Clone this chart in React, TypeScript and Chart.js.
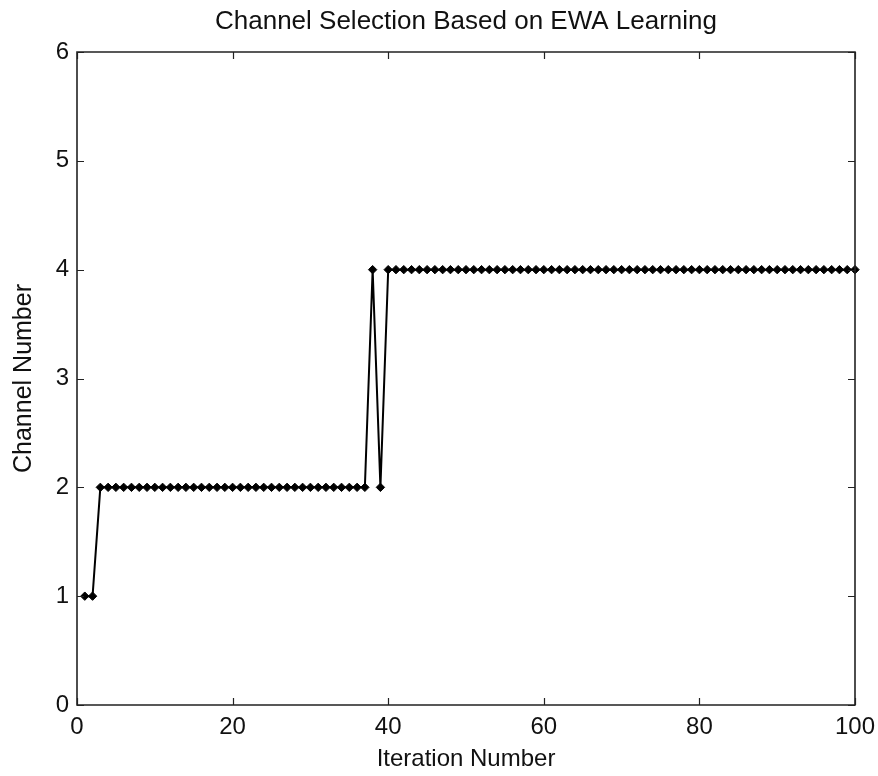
import React, { useEffect, useRef } from "react";
import { Chart, registerables } from "chart.js";

Chart.register(...registerables);

const chartTitle = "Channel Selection Based on EWA Learning";
const xAxisTitle = "Iteration Number";
const yAxisTitle = "Channel Number";

const iterations = [
  1, 2, 3, 4, 5, 6, 7, 8, 9, 10,
  11, 12, 13, 14, 15, 16, 17, 18, 19, 20,
  21, 22, 23, 24, 25, 26, 27, 28, 29, 30,
  31, 32, 33, 34, 35, 36, 37, 38, 39, 40,
  41, 42, 43, 44, 45, 46, 47, 48, 49, 50,
  51, 52, 53, 54, 55, 56, 57, 58, 59, 60,
  61, 62, 63, 64, 65, 66, 67, 68, 69, 70,
  71, 72, 73, 74, 75, 76, 77, 78, 79, 80,
  81, 82, 83, 84, 85, 86, 87, 88, 89, 90,
  91, 92, 93, 94, 95, 96, 97, 98, 99, 100,
];

const channels = [
  1, 1, 2, 2, 2, 2, 2, 2, 2, 2,
  2, 2, 2, 2, 2, 2, 2, 2, 2, 2,
  2, 2, 2, 2, 2, 2, 2, 2, 2, 2,
  2, 2, 2, 2, 2, 2, 2, 4, 2, 4,
  4, 4, 4, 4, 4, 4, 4, 4, 4, 4,
  4, 4, 4, 4, 4, 4, 4, 4, 4, 4,
  4, 4, 4, 4, 4, 4, 4, 4, 4, 4,
  4, 4, 4, 4, 4, 4, 4, 4, 4, 4,
  4, 4, 4, 4, 4, 4, 4, 4, 4, 4,
  4, 4, 4, 4, 4, 4, 4, 4, 4, 4,
];

const xTicks = [0, 20, 40, 60, 80, 100];
const yTicks = [0, 1, 2, 3, 4, 5, 6];

const FONT = "'Liberation Sans', Arial, Helvetica, sans-serif";

const framePlugin = {
  id: "matlabFrame",
  afterDatasetsDraw(chart: any) {
    const { ctx, chartArea, scales } = chart;
    const { left, right, top, bottom } = chartArea;
    const tl = 7;
    ctx.save();
    ctx.strokeStyle = "#222";
    ctx.lineWidth = 1.6;
    ctx.beginPath();
    ctx.rect(left, top, right - left, bottom - top);
    ctx.stroke();
    ctx.lineWidth = 1.2;
    ctx.beginPath();
    for (const v of xTicks) {
      const px = Math.round(scales.x.getPixelForValue(v)) + 0.5;
      ctx.moveTo(px, bottom);
      ctx.lineTo(px, bottom - tl);
      ctx.moveTo(px, top);
      ctx.lineTo(px, top + tl);
    }
    for (const v of yTicks) {
      const py = Math.round(scales.y.getPixelForValue(v)) + 0.5;
      ctx.moveTo(left, py);
      ctx.lineTo(left + tl, py);
      ctx.moveTo(right, py);
      ctx.lineTo(right - tl, py);
    }
    ctx.stroke();
    // title centred over the plot area
    ctx.fillStyle = "#111";
    ctx.font = `26px ${FONT}`;
    ctx.textAlign = "center";
    ctx.textBaseline = "middle";
    ctx.fillText(chartTitle, (left + right) / 2, 22);
    ctx.restore();
  },
};

export default function App() {
  const ref = useRef<HTMLCanvasElement | null>(null);

  useEffect(() => {
    if (!ref.current) return;
    const points = iterations.map((x, i) => ({ x, y: channels[i] }));
    const chart = new Chart(ref.current, {
      type: "line",
      data: {
        datasets: [
          {
            data: points,
            borderColor: "#000",
            backgroundColor: "#000",
            borderWidth: 2,
            pointStyle: "rectRot",
            pointRadius: 4.2,
            pointBorderWidth: 1,
            pointBackgroundColor: "#000",
            pointBorderColor: "#000",
            tension: 0,
            clip: false as any,
          },
        ],
      },
      options: {
        responsive: false,
        animation: false,
        devicePixelRatio: 1,
        layout: { padding: { left: 0, right: 23, top: 52, bottom: 0 } },
        plugins: {
          legend: { display: false },
          tooltip: { enabled: false },
          title: { display: false },
        },
        scales: {
          x: {
            type: "linear",
            min: 0,
            max: 100,
            afterFit: (s: any) => {
              s.height = 71;
              s.paddingLeft = 0;
              s.paddingRight = 0;
            },
            afterBuildTicks: (s: any) => {
              s.ticks = xTicks.map((v) => ({ value: v }));
            },
            grid: { display: false, drawTicks: false },
            border: { display: false },
            ticks: {
              color: "#111",
              padding: 8,
              maxRotation: 0,
              autoSkip: false,
              font: { family: FONT, size: 24 },
            },
            title: {
              display: true,
              text: xAxisTitle,
              color: "#111",
              font: { family: FONT, size: 24 },
              padding: { top: 0, bottom: 2 },
            },
          },
          y: {
            type: "linear",
            min: 0,
            max: 6,
            afterFit: (s: any) => {
              s.width = 77;
              s.paddingTop = 0;
              s.paddingBottom = 0;
            },
            afterBuildTicks: (s: any) => {
              s.ticks = yTicks.map((v) => ({ value: v }));
            },
            grid: { display: false, drawTicks: false },
            border: { display: false },
            ticks: {
              color: "#111",
              padding: 8,
              autoSkip: false,
              font: { family: FONT, size: 24 },
            },
            title: {
              display: true,
              text: yAxisTitle,
              color: "#111",
              font: { family: FONT, size: 25 },
              padding: { top: 9, bottom: 0 },
            },
          },
        },
      },
      plugins: [framePlugin],
    });
    return () => chart.destroy();
  }, []);

  return (
    <div style={{ position: "absolute", left: 0, top: 0, width: 878, height: 776, background: "#fff" }}>
      <canvas ref={ref} width={878} height={776} style={{ display: "block" }} />
    </div>
  );
}
